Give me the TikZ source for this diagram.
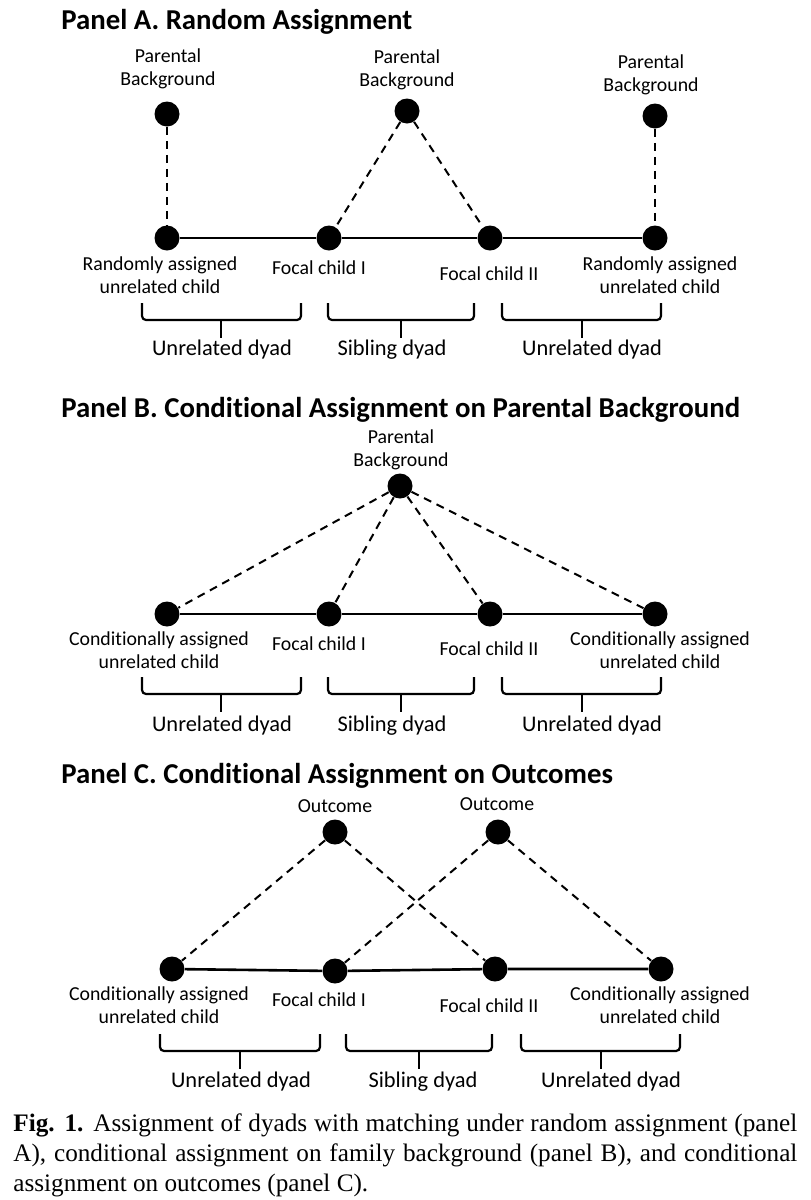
\documentclass[tikz,border=0pt]{standalone}
\usepackage{fontspec}
\setmainfont{Carlito}[Ligatures=NoCommon]
\newfontfamily\captionserif{Liberation Serif}
\newcommand{\dyadbrace}[4]{%
  \draw[bracket] (#1,#4) -- ++(0,17) -| (#2,#4);
  \draw[bracket] (#3,#4) ++(0,17) -- ++(0,18);}

\begin{document}
\begin{tikzpicture}[x=0.5pt,y=-0.5pt,
dot/.style={circle,fill=black,inner sep=0pt,minimum size=12.5pt},
lbl/.style={align=center,inner sep=0pt,font=\fontsize{9.9}{11.5}\selectfont},
dyad/.style={inner sep=0pt,font=\fontsize{11.2}{13}\selectfont},
paneltitle/.style={anchor=base west,inner sep=0pt,font=\bfseries\fontsize{14.4}{16}\selectfont},
tie/.style={line width=1.3pt},
link/.style={line width=1pt,dash pattern=on 4pt off 3pt},
bracket/.style={line width=1.1pt,rounded corners=2pt}]
\useasboundingbox (0,0) rectangle (810,1200);

\node[paneltitle] (titleA) at (61,29) {Panel A. Random Assignment};
\node[lbl] (pbA1) at (168,69) {Parental\\Background};
\node[lbl] (pbA2) at (407,70) {Parental\\Background};
\node[lbl] (pbA3) at (651,75) {Parental\\Background};
\node[dot] (topA1) at (167,114) {};
\node[dot] (topA2) at (407,111) {};
\node[dot] (topA3) at (655,116) {};
\node[dot] (unA1) at (167,238) {};
\node[dot] (focA1) at (329,238) {};
\node[dot] (focA2) at (490,238) {};
\node[dot] (unA2) at (655,238) {};
\node[lbl] (lbA1) at (160,275) {Randomly assigned\\unrelated child};
\node[lbl] (lbA2) at (319,268) {Focal child I};
\node[lbl] (lbA3) at (489,274) {Focal child II};
\node[lbl] (lbA4) at (660,275) {Randomly assigned\\unrelated child};
\draw[tie] (unA1) -- (focA1) -- (focA2) -- (unA2);
\draw[link] (topA1) -- (unA1);
\draw[link] (topA2) -- (focA1);
\draw[link] (topA2) -- (focA2);
\draw[link] (topA3) -- (unA2);
\dyadbrace{142}{301}{221}{303}
\dyadbrace{328}{474}{401}{303}
\dyadbrace{502}{661}{582}{303}
\node[dyad] (dyA1) at (222,350) {Unrelated dyad};
\node[dyad] (dyA2) at (392,350) {Sibling dyad};
\node[dyad] (dyA3) at (592,350) {Unrelated dyad};

\node[paneltitle] (titleB) at (61,417) {Panel B. Conditional Assignment on Parental Background};
\node[lbl] (pbB) at (401,450) {Parental\\Background};
\node[dot] (topB) at (400,486) {};
\node[dot] (unB1) at (167,614) {};
\node[dot] (focB1) at (329,614) {};
\node[dot] (focB2) at (490,614) {};
\node[dot] (unB2) at (655,614) {};
\node[lbl] (lbB1) at (159,650) {Conditionally assigned\\unrelated child};
\node[lbl] (lbB2) at (319,644) {Focal child I};
\node[lbl] (lbB3) at (489,649) {Focal child II};
\node[lbl] (lbB4) at (660,650) {Conditionally assigned\\unrelated child};
\draw[tie] (unB1) -- (focB1) -- (focB2) -- (unB2);
\draw[link] (topB) -- (unB1);
\draw[link] (topB) -- (focB1);
\draw[link] (topB) -- (focB2);
\draw[link] (topB) -- (unB2);
\dyadbrace{142}{301}{221}{677}
\dyadbrace{328}{474}{401}{677}
\dyadbrace{502}{661}{582}{677}
\node[dyad] (dyB1) at (222,726) {Unrelated dyad};
\node[dyad] (dyB2) at (392,726) {Sibling dyad};
\node[dyad] (dyB3) at (592,726) {Unrelated dyad};

\node[paneltitle] (titleC) at (61,783) {Panel C. Conditional Assignment on Outcomes};
\node[lbl] (ocC1) at (335,806) {Outcome};
\node[lbl] (ocC2) at (497,804) {Outcome};
\node[dot] (topC1) at (335,832) {};
\node[dot] (topC2) at (498,832) {};
\node[dot] (unC1) at (172,969) {};
\node[dot] (focC1) at (335,971) {};
\node[dot] (focC2) at (495,969) {};
\node[dot] (unC2) at (661,969) {};
\node[lbl] (lbC1) at (159,1005) {Conditionally assigned\\unrelated child};
\node[lbl] (lbC2) at (319,1000) {Focal child I};
\node[lbl] (lbC3) at (489,1006) {Focal child II};
\node[lbl] (lbC4) at (660,1005) {Conditionally assigned\\unrelated child};
\draw[tie] (unC1) -- (focC1) -- (focC2) -- (unC2);
\draw[link] (topC1) -- (unC1);
\draw[link] (topC1) -- (focC2);
\draw[link] (topC2) -- (focC1);
\draw[link] (topC2) -- (unC2);
\dyadbrace{160}{320}{240}{1034}
\dyadbrace{346}{492}{419}{1034}
\dyadbrace{521}{680}{601}{1034}
\node[dyad] (dyC1) at (241,1082) {Unrelated dyad};
\node[dyad] (dyC2) at (423,1082) {Sibling dyad};
\node[dyad] (dyC3) at (611,1082) {Unrelated dyad};

\node[anchor=north west,text width=392pt,align=justify,inner sep=0pt,
  font=\captionserif\fontsize{12.6}{15}\selectfont] (caption) at (13,1113)
  {\textbf{Fig. 1.} Assignment of dyads with matching under random assignment (panel\linebreak
   A), conditional assignment on family background (panel B), and conditional\linebreak
   assignment on outcomes (panel C).};
\end{tikzpicture}
\end{document}
